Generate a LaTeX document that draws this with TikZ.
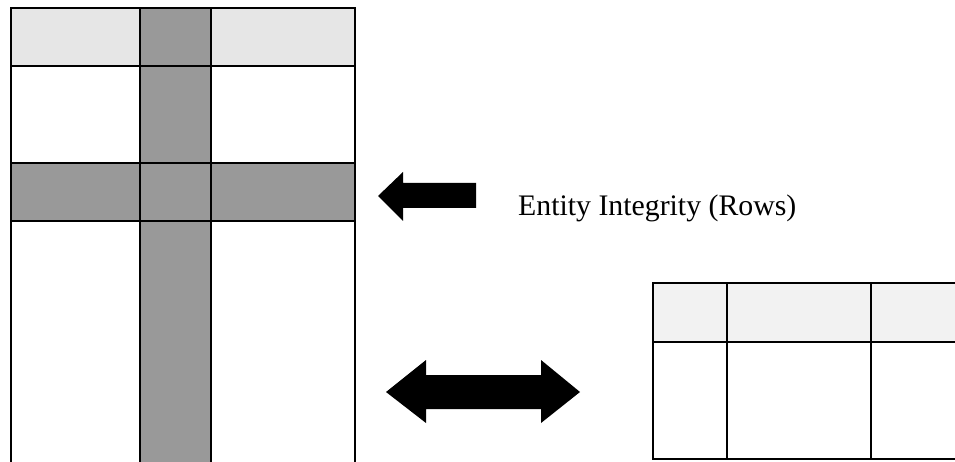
\documentclass[tikz,border=0pt]{standalone}
\usepackage{fontspec}
\setmainfont{Liberation Serif}
\begin{document}
\begin{tikzpicture}[x=1pt,y=-1pt,
  gridline/.style={line width=2.5pt,draw=black},
  darkfill/.style={fill=darkgray0},
  arrowshape/.style={fill=black,draw=none},
  label/.style={font=\fontsize{29.8}{36}\selectfont,inner sep=0pt}]
\definecolor{darkgray0}{HTML}{999999}
\definecolor{lightgray0}{HTML}{E6E6E6}
\definecolor{lightgray1}{HTML}{F2F2F2}
\useasboundingbox (0,0) rectangle (955,462);
\clip (0,0) rectangle (955,462);
% left table fills
\fill[lightgray0] (11,8) rectangle (355,66);
\fill[darkgray0] (140,8) rectangle (211,480);
\fill[darkgray0] (11,163) rectangle (355,221);
% left table lines
\draw[gridline] (11,480) -- (11,8) -- (355,8) -- (355,480);
\draw[gridline] (140,8) -- (140,480);
\draw[gridline] (211,8) -- (211,480);
\draw[gridline] (11,66) -- (355,66);
\draw[gridline] (11,163) -- (355,163);
\draw[gridline] (11,221) -- (355,221);
% left arrow
\fill[arrowshape] (378,196) -- (403,172) -- (403,183) -- (476,183) -- (476,208) -- (403,208) -- (403,221) -- cycle;
\node[label,anchor=base west] (ent) at (518,216) {Entity Integrity (Rows)};
% double arrow
\fill[arrowshape] (386,392) -- (426,360) -- (426,375) -- (541,375) -- (541,360) -- (580,392) -- (541,423) -- (541,409) -- (426,409) -- (426,423) -- cycle;
% right table
\fill[lightgray1] (653,283) rectangle (1000,342);
\draw[gridline] (1000,283) -- (653,283) -- (653,459) -- (1000,459);
\draw[gridline] (653,342) -- (1000,342);
\draw[gridline] (727,283) -- (727,459);
\draw[gridline] (871,283) -- (871,459);
\end{tikzpicture}
\end{document}
